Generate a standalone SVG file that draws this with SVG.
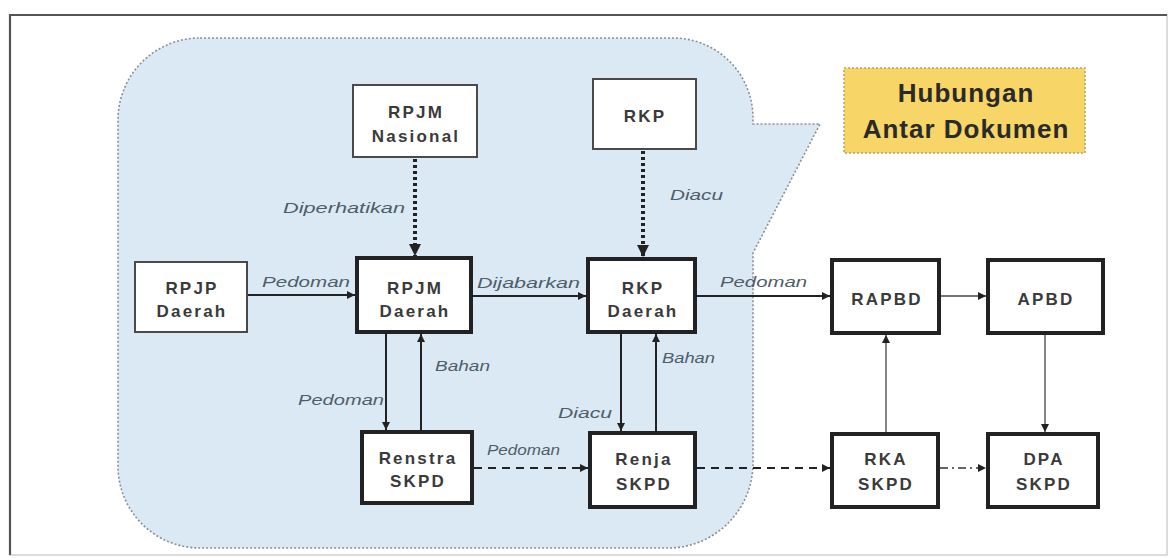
<svg xmlns="http://www.w3.org/2000/svg" width="1173" height="558" viewBox="0 0 1173 558">
<style>
.bg{fill:#ffffff}
.frame{fill:none;stroke:#d0d0d0;stroke-width:1.5}
.frameDark{stroke:#555;stroke-width:2.2;fill:none}
.callout{fill:#dbe9f5;stroke:#8a8f96;stroke-width:1.6;stroke-dasharray:2 2}
.tag{fill:#f8d567;stroke:#b5a46a;stroke-width:1.5;stroke-dasharray:2 2}
.thin{fill:#fff;stroke:#4a4a4a;stroke-width:2}
.thick{fill:#fff;stroke:#222;stroke-width:4}
.bt{font-family:"Liberation Sans",Arial,sans-serif;font-weight:bold;font-size:17px;fill:#3a3a3a;text-anchor:middle;letter-spacing:2.2px}
.tt{font-family:"Liberation Sans",Arial,sans-serif;font-weight:bold;font-size:26px;fill:#2a2a2a;text-anchor:middle;letter-spacing:1px}
.lb{font-family:"Liberation Sans",Arial,sans-serif;font-style:italic;font-size:15px;fill:#4f5d68}
.ln{fill:none;stroke:#222;stroke-width:2}
.lt{fill:none;stroke:#444;stroke-width:1.3}
.dot{fill:none;stroke:#222;stroke-width:4;stroke-dasharray:3 3}
.dash{fill:none;stroke:#222;stroke-width:2;stroke-dasharray:8 6}
.dd{fill:none;stroke:#333;stroke-width:1.6;stroke-dasharray:8 4 2 4}
</style>
<defs>
<marker id="ah" viewBox="0 0 10 10" refX="10" refY="5" markerWidth="9" markerHeight="8" markerUnits="userSpaceOnUse" orient="auto"><path d="M0,0 L10,5 L0,10 Z" fill="#222"/></marker>
<marker id="ahB" viewBox="0 0 10 10" refX="10" refY="5" markerWidth="13" markerHeight="12" markerUnits="userSpaceOnUse" orient="auto"><path d="M0,0 L10,5 L0,10 Z" fill="#222"/></marker>
</defs>
<rect class="bg" x="0" y="0" width="1173" height="558"/>
<rect class="frame" x="10" y="15" width="1157" height="540"/>
<path class="frameDark" d="M10,555 V15 H1167"/>
<path class="callout" d="M200,38 H673 A80,80 0 0 1 753,118 V124 H820 L753,253 V463 A85,85 0 0 1 668,548 H200 A82,82 0 0 1 118,466 V120 A82,82 0 0 1 200,38 Z"/>
<g id="title">
<rect class="tag" x="844" y="68" width="241" height="85"/>
<text class="tt" x="966" y="102">Hubungan</text>
<text class="tt" x="966" y="138">Antar Dokumen</text>
</g>
<g id="connectors">
<line class="dot" x1="415" y1="159" x2="415" y2="256" marker-end="url(#ahB)"/>
<line class="dot" x1="643" y1="151" x2="643" y2="257" marker-end="url(#ahB)"/>
<line class="ln" x1="248" y1="295" x2="355" y2="295" marker-end="url(#ah)"/>
<line class="ln" x1="473" y1="296" x2="586" y2="296" marker-end="url(#ah)"/>
<line class="ln" x1="697" y1="296" x2="830" y2="296" marker-end="url(#ah)"/>
<line class="lt" x1="941" y1="296" x2="986" y2="296" marker-end="url(#ah)"/>
<line class="ln" x1="386" y1="334" x2="386" y2="430" marker-end="url(#ah)"/>
<line class="ln" x1="421" y1="430" x2="421" y2="334" marker-end="url(#ah)"/>
<line class="ln" x1="621" y1="334" x2="621" y2="431" marker-end="url(#ah)"/>
<line class="ln" x1="656" y1="431" x2="656" y2="334" marker-end="url(#ah)"/>
<line class="dash" x1="474" y1="468" x2="588" y2="468" marker-end="url(#ah)"/>
<line class="dash" x1="697" y1="468" x2="830" y2="468" marker-end="url(#ah)"/>
<line class="dd" x1="940" y1="468" x2="986" y2="468" marker-end="url(#ah)"/>
<line class="lt" x1="886" y1="432" x2="886" y2="335" marker-end="url(#ah)"/>
<line class="lt" x1="1045" y1="335" x2="1045" y2="432" marker-end="url(#ah)"/>
<text class="lb" x="283" y="213" textLength="122" lengthAdjust="spacingAndGlyphs">Diperhatikan</text>
<text class="lb" x="670" y="200" textLength="53" lengthAdjust="spacingAndGlyphs">Diacu</text>
<text class="lb" x="262" y="287" textLength="88" lengthAdjust="spacingAndGlyphs">Pedoman</text>
<text class="lb" x="477" y="288" textLength="103" lengthAdjust="spacingAndGlyphs">Dijabarkan</text>
<text class="lb" x="720" y="287" textLength="87" lengthAdjust="spacingAndGlyphs">Pedoman</text>
<text class="lb" x="298" y="405" textLength="86" lengthAdjust="spacingAndGlyphs">Pedoman</text>
<text class="lb" x="435" y="371" textLength="55" lengthAdjust="spacingAndGlyphs">Bahan</text>
<text class="lb" x="662" y="363" textLength="53" lengthAdjust="spacingAndGlyphs">Bahan</text>
<text class="lb" x="558" y="418" textLength="54" lengthAdjust="spacingAndGlyphs">Diacu</text>
<text class="lb" x="487" y="455" font-size="12" textLength="73" lengthAdjust="spacingAndGlyphs">Pedoman</text>
</g>
<g id="rpjm-nasional"><rect class="thin" x="353" y="85" width="124" height="72"/><text class="bt" x="416" y="118">RPJM</text><text class="bt" x="416" y="142">Nasional</text></g>
<g id="rkp"><rect class="thin" x="593" y="79" width="103" height="70"/><text class="bt" x="645" y="122">RKP</text></g>
<g id="rpjp-daerah"><rect class="thin" x="135" y="262" width="112" height="70"/><text class="bt" x="192" y="294">RPJP</text><text class="bt" x="192" y="317">Daerah</text></g>
<g id="rpjm-daerah"><rect class="thick" x="357" y="258" width="114" height="74"/><text class="bt" x="415" y="294">RPJM</text><text class="bt" x="415" y="317">Daerah</text></g>
<g id="rkp-daerah"><rect class="thick" x="588" y="259" width="107" height="73"/><text class="bt" x="643" y="294">RKP</text><text class="bt" x="643" y="317">Daerah</text></g>
<g id="rapbd"><rect class="thick" x="832" y="260" width="107" height="73"/><text class="bt" x="887" y="305">RAPBD</text></g>
<g id="apbd"><rect class="thick" x="988" y="260" width="115" height="73"/><text class="bt" x="1046" y="305">APBD</text></g>
<g id="renstra-skpd"><rect class="thick" x="362" y="432" width="110" height="71"/><text class="bt" x="418" y="464">Renstra</text><text class="bt" x="418" y="487">SKPD</text></g>
<g id="renja-skpd"><rect class="thick" x="590" y="433" width="105" height="74"/><text class="bt" x="644" y="465">Renja</text><text class="bt" x="644" y="490">SKPD</text></g>
<g id="rka-skpd"><rect class="thick" x="832" y="434" width="106" height="73"/><text class="bt" x="886" y="465">RKA</text><text class="bt" x="886" y="490">SKPD</text></g>
<g id="dpa-skpd"><rect class="thick" x="988" y="434" width="110" height="73"/><text class="bt" x="1044" y="465">DPA</text><text class="bt" x="1044" y="490">SKPD</text></g>
</svg>
